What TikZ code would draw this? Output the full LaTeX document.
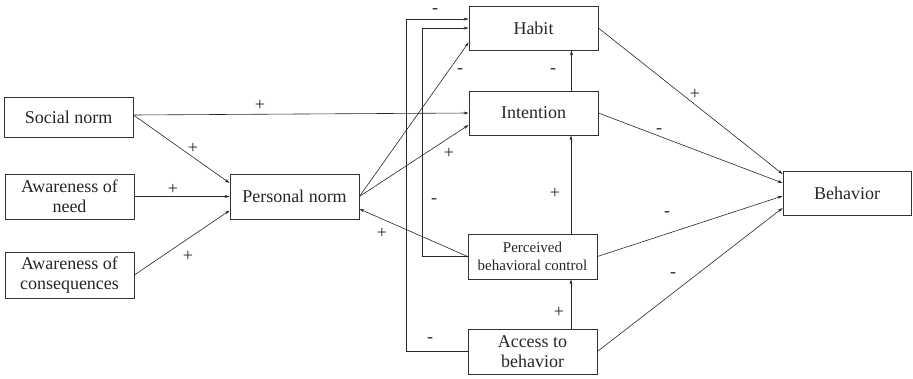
\documentclass[tikz,border=0pt]{standalone}
\usepackage{fontspec}
\setmainfont{Liberation Serif}
\usepackage{tikz}
\usetikzlibrary{positioning,calc,arrows.meta}

\begin{document}
\begin{tikzpicture}[x=1pt,y=-1pt,
		box/.style={rectangle, draw=black!80, line width=0.8pt, minimum width=129pt, minimum height=45pt, inner sep=0pt, align=center, text=black!85, font=\fontsize{18}{20}\selectfont},
		arr/.style={draw=black!85, line width=0.6pt, -{Stealth[length=5pt,width=3pt]}},
		lbl/.style={inner sep=0pt, text=black!85, font=\fontsize{18}{18}\selectfont}]
			\useasboundingbox (0,0) rectangle (913,378);
			% left column
			\node[box, minimum height=40pt] (sn) at (68.5,117){Social norm};
			\node[box] (aon) at (69.5,196.5){Awareness of\\need};
			\node[box, minimum height=46pt] (aoc) at (69.5,275){Awareness of\\consequences};
			\node[box] (pn) at (294.5,196.5){Personal norm};
			% middle column
			\node[box, minimum height=44pt] (hab) at (533.5,28){Habit};
			\node[box, minimum height=44pt] (int) at (533.5,113){Intention};
			\node[box, font=\fontsize{15}{18}\selectfont] (pbc) at (532.5,256.5){Perceived\\behavioral control};
			\node[box] (acc) at (532.5,351.5){Access to\\behavior};
			% right
			\node[box, minimum width=128pt, minimum height=44pt] (beh) at (847,193){Behavior};

			\draw[arr] ([yshift=2pt]sn.east) -- (int.west);
			\draw[arr] ([yshift=2pt]sn.east) -- ([yshift=13.5pt]pn.west);
			\draw[arr] (aon.east) -- (pn.west);
			\draw[arr] (aoc.east) -- ([yshift=-14pt]pn.west);
			\draw[arr] (pn.east) -- ([yshift=8pt]hab.south west);
			\draw[arr] (pn.east) -- ([yshift=-12pt]int.west);
			\draw[arr] (pbc.west) -- ([yshift=-12.5pt]pn.east);
			\draw[arr] (acc.west) -- ++(-61,0) |- ([yshift=9pt]hab.west);
			\draw[arr] (pbc.west) -- ++(-45,0) |- (hab.west);
			\draw[arr] ([xshift=38pt]int.north) -- ([xshift=38pt]hab.south);
			\draw[arr] ([xshift=38.5pt]pbc.north) -- ([xshift=37.5pt]int.south);
			\draw[arr] ([xshift=38.5pt]acc.north) -- ([xshift=38.5pt]pbc.south);
			\draw[arr] (hab.east) -- ([yshift=19pt]beh.west);
			\draw[arr] (int.east) -- ([yshift=10pt]beh.west);
			\draw[arr] (pbc.east) -- ([yshift=-3pt]beh.west);
			\draw[arr] (acc.east) -- ([yshift=-15pt]beh.west);

			% signs
			\node[lbl] (l1) at (260,105){+};
			\node[lbl] (l2) at (193,148){+};
			\node[lbl] (l3) at (173,189){+};
			\node[lbl] (l4) at (188,256){+};
			\node[lbl] (l5) at (435,11){-};
			\node[lbl] (l6) at (460,71){-};
			\node[lbl] (l7) at (553,71){-};
			\node[lbl] (l8) at (449,153){+};
			\node[lbl] (l9) at (434,201){-};
			\node[lbl] (l10) at (382,233){+};
			\node[lbl] (l11) at (555,193){+};
			\node[lbl] (l12) at (559,312){+};
			\node[lbl] (l13) at (430,340){-};
			\node[lbl] (l14) at (695,94){+};
			\node[lbl] (l15) at (659,131){-};
			\node[lbl] (l16) at (667,214){-};
			\node[lbl] (l17) at (673,275){-};
		\end{tikzpicture}
\end{document}
